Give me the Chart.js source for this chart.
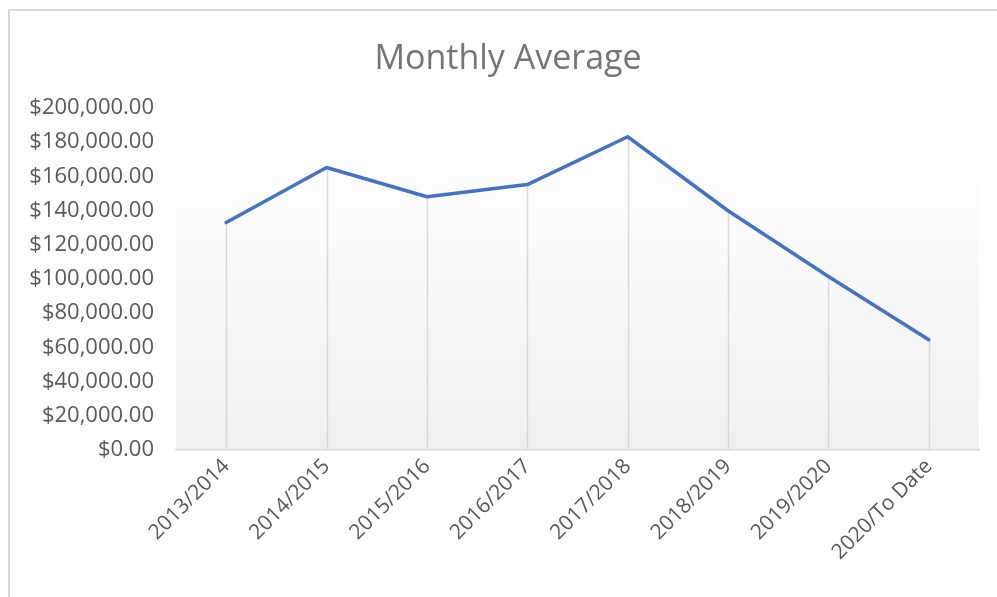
<!DOCTYPE html>
<html><head><meta charset="utf-8">
<script src="https://cdn.jsdelivr.net/npm/chart.js@4/dist/chart.umd.min.js"></script>
<style>
html,body{margin:0;padding:0;background:#fff;overflow:hidden}
#frame{position:absolute;left:8px;top:9px;width:1100px;height:700px;border:2px solid #d9d9d9;box-sizing:border-box}
#wrap{position:absolute;left:0;top:0;width:997px;height:597px}
#title{position:absolute;left:308px;width:400px;top:36px;height:41px;line-height:41px;text-align:center;font-family:'Open Sans';font-size:34px;color:#757575;z-index:2}
</style></head>
<body>
<div id="frame"></div>
<div id="wrap"><canvas id="c" width="997" height="597"></canvas></div>
<div id="title"></div>
<script>
const categories = ["2013/2014","2014/2015","2015/2016","2016/2017","2017/2018","2018/2019","2019/2020","2020/To Date"];
const monthlyAverage = [133000,165200,148100,155200,183200,139900,101500,64500];
const yTicks = [0,20000,40000,60000,80000,100000,120000,140000,160000,180000,200000];
const chartTitle = "Monthly Average";
document.getElementById('title').textContent = chartTitle;

const dropLines = {
  id:'dropLines',
  beforeDatasetsDraw(chart){
    const {ctx, chartArea} = chart;
    const meta = chart.getDatasetMeta(0);
    ctx.save();
    ctx.strokeStyle = '#d9d9d9';
    ctx.lineWidth = 1.5;
    meta.data.forEach(pt=>{
      ctx.beginPath();
      ctx.moveTo(Math.round(pt.x)+0.5, pt.y);
      ctx.lineTo(Math.round(pt.x)+0.5, chartArea.bottom);
      ctx.stroke();
    });
    ctx.restore();
  }
};
const bgGrad = {
  id:'bgGrad',
  beforeDraw(chart){
    const {ctx, chartArea:a} = chart;
    const top = a.top + 40;
    const g = ctx.createLinearGradient(0,top,0,a.bottom);
    g.addColorStop(0,'#ffffff');
    g.addColorStop(1,'#f0f0f0');
    ctx.save();
    ctx.fillStyle = g;
    ctx.fillRect(a.left,top,a.right-a.left,a.bottom-top);
    ctx.restore();
  }
};

new Chart(document.getElementById('c'),{
  type:'line',
  data:{labels:categories,datasets:[{data:monthlyAverage,borderColor:'#4472c4',borderWidth:3.5,pointRadius:0,tension:0,borderCapStyle:'round',borderJoinStyle:'round'}]},
  options:{
    responsive:false,animation:false,
    layout:{padding:{top:108,left:10,right:18,bottom:0}},
    plugins:{
      legend:{display:false},tooltip:{enabled:false},title:{display:false}
    },
    scales:{
      x:{
        offset:true,
        grid:{display:false,drawTicks:false},
        border:{display:true,color:'#d9d9d9',width:1.5},
        ticks:{color:'#595959',font:{family:'Open Sans',size:21},minRotation:45,maxRotation:45,padding:4},
        afterFit(s){s.height=147;}
      },
      y:{
        min:0,max:200000,
        afterBuildTicks(s){s.ticks=yTicks.map(v=>({value:v}));},
        grid:{display:false,drawTicks:false},
        border:{display:false},
        ticks:{color:'#595959',font:{family:'Open Sans',size:22},padding:22,
          callback:v=>'$'+Number(v).toLocaleString('en-US',{minimumFractionDigits:2,maximumFractionDigits:2})},
        afterFit(s){s.width=166;}
      }
    }
  },
  plugins:[bgGrad,dropLines]
});
</script>
</body></html>
